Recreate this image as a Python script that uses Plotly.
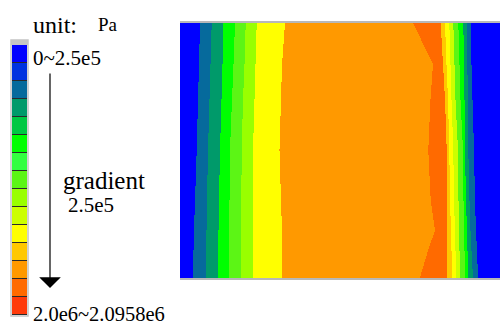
import numpy as np
import plotly.graph_objects as go

# ---------------- data ----------------
# legend bands (top -> bottom), 15 discrete levels
LEGEND_COLORS = ["#0000FF", "#0033E0", "#066A9C", "#009A6A", "#00C843", "#00FF00",
                 "#33FF40", "#5CF515", "#99FF00", "#CCFF00", "#FFFF00", "#FFC800",
                 "#FF9900", "#FF6A00", "#FF3A0A"]
LEGEND_LEVELS = list(range(15))

# field: band index met from left to right across the section
BAND_SEQUENCE = [0, 2, 3, 5, 7, 8, 10, 12, 13, 11, 10, 9, 7, 5, 3, 2, 0]
# heights (from top) at which the band boundaries were read
ROW_Y = [0, 41, 76, 126, 176, 206, 226, 253]
# boundary positions (horizontal coordinate) at each height, left to right
BOUNDARIES = [
    [20.0, 19.0, 18.0, 16.7, 15.0, 14.0, 13.5, 13.0],
    [31.7, 30.5, 29.5, 28.0, 27.0, 26.5, 26.0, 26.0],
    [43.3, 42.5, 41.5, 40.0, 39.0, 38.5, 38.0, 38.0],
    [55.0, 53.5, 52.0, 50.0, 49.5, 49.0, 49.0, 49.0],
    [65.7, 64.5, 63.0, 61.7, 61.3, 61.0, 61.0, 61.0],
    [76.7, 75.5, 74.5, 73.0, 73.0, 73.0, 73.0, 73.0],
    [105.0, 102.0, 101.0, 99.5, 101.0, 102.0, 102.0, 102.0],
    [233.3, 253.0, 250.5, 248.3, 250.7, 255.0, 248.0, 240.0],
    [260.7, 263.0, 265.0, 266.7, 267.0, 267.0, 267.0, 267.3],
    [265.0, 266.5, 268.0, 269.3, 270.0, 271.0, 271.5, 272.0],
    [269.3, 270.5, 271.5, 273.3, 274.0, 275.0, 275.5, 276.0],
    [273.3, 274.5, 275.5, 278.0, 278.5, 279.0, 279.5, 280.0],
    [278.3, 279.5, 280.5, 283.0, 283.5, 284.0, 284.5, 285.0],
    [283.3, 284.0, 284.5, 285.0, 286.0, 287.0, 287.5, 288.0],
    [286.7, 287.3, 288.0, 288.3, 289.5, 290.5, 291.5, 293.0],
    [290.7, 291.5, 292.5, 294.0, 295.0, 296.0, 297.0, 298.0],
]
FIELD_WIDTH = 320
FIELD_HEIGHT = 254

# ---------------- build field ----------------
xs = np.arange(FIELD_WIDTH) + 0.5
ys = np.arange(FIELD_HEIGHT)
seq = np.array(BAND_SEQUENCE)
z = np.zeros((FIELD_HEIGHT, FIELD_WIDTH), dtype=int)
for r in ys:
    pos = np.array([np.interp(r, ROW_Y, b) for b in BOUNDARIES])
    idx = np.searchsorted(pos, xs, side="right")
    z[r] = seq[idx]

n = len(LEGEND_COLORS)
cscale = []
for i, c in enumerate(LEGEND_COLORS):
    cscale.append([i / n, c])
    cscale.append([(i + 1) / n, c])

fig = go.Figure()
fig.add_trace(go.Heatmap(z=z, x=xs, y=ys, colorscale=cscale, zmin=-0.5, zmax=n - 0.5,
                         showscale=False, zsmooth=False, hoverinfo="skip",
                         xaxis="x", yaxis="y"))
fig.add_trace(go.Heatmap(z=[[v] for v in LEGEND_LEVELS], x=[0], y=LEGEND_LEVELS,
                         colorscale=cscale, zmin=-0.5, zmax=n - 0.5, ygap=1,
                         showscale=False, hoverinfo="skip", xaxis="x2", yaxis="y2"))

W, H = 500, 329
def px(x):
    return x / W
def py(y):
    return 1 - y / H

fig.update_layout(
    width=W, height=H, margin=dict(l=0, r=0, t=0, b=0),
    paper_bgcolor="white", plot_bgcolor="#2a2a2a",
    xaxis=dict(domain=[px(180), 1.0], range=[0, FIELD_WIDTH], showgrid=False,
               zeroline=False, showticklabels=False, ticks="", showline=True,
               mirror=True, linecolor="#b8b8b8", linewidth=2),
    yaxis=dict(domain=[py(278), py(23)], range=[FIELD_HEIGHT - 0.5, -0.5], showgrid=False,
               zeroline=False, showticklabels=False, ticks="", showline=False),
    xaxis2=dict(domain=[px(12), px(27)], range=[-0.5, 0.5], showgrid=False, zeroline=False,
                showticklabels=False, ticks="", anchor="y2"),
    yaxis2=dict(domain=[py(315), py(45)], range=[14.5, -0.5], showgrid=False, zeroline=False,
                showticklabels=False, ticks="", anchor="x2"),
    showlegend=False,
)

# legend frame and top cap
fig.add_shape(type="rect", xref="paper", yref="paper", x0=px(11), x1=px(28),
              y0=py(40), y1=py(45), fillcolor="#c4c4c4", line=dict(width=0), layer="below")
fig.add_shape(type="rect", xref="paper", yref="paper", x0=px(11), x1=px(28),
              y0=py(316), y1=py(40), line=dict(color="#c4c4c4", width=1.5), fillcolor="rgba(0,0,0,0)")

serif = "Liberation Serif, Times New Roman, serif"
def label(text, x, y, size):
    fig.add_annotation(text=text, xref="paper", yref="paper", x=px(x), y=py(y),
                       xanchor="left", yanchor="middle", showarrow=False,
                       font=dict(family=serif, size=size, color="black"))

label("unit:", 31, 25, 24)
label("Pa", 96, 24, 19)
label("0~2.5e5", 31, 58, 21)
label("gradient", 61, 180, 25)
label("2.5e5", 66, 205, 21)
label("2.0e6~2.0958e6", 31, 314, 20.5)

# arrow
fig.add_annotation(x=px(50), y=py(288), xref="paper", yref="paper", ax=0, ay=-216,
                   text="", showarrow=True, arrowhead=1, arrowsize=3, arrowwidth=1.2,
                   arrowcolor="black")

fig.write_html("out.html")
